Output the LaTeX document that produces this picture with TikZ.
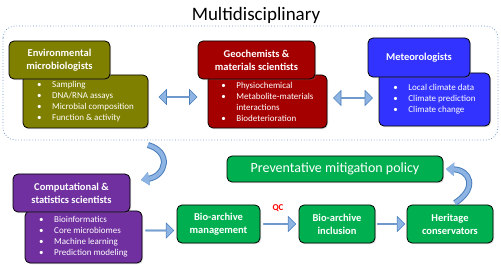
\documentclass[tikz,border=0pt]{standalone}
\usepackage{fontspec}
\setmainfont{Carlito}
\usetikzlibrary{shapes.arrows,shadows,arrows.meta,calc}
\definecolor{olivebox}{HTML}{7F7F00}
\definecolor{redbox}{HTML}{A50000}
\definecolor{bluebox}{HTML}{3333FF}
\definecolor{purplebox}{HTML}{7030A0}
\definecolor{greenbox}{HTML}{00B050}
\definecolor{arrfill}{HTML}{8EB4E3}
\definecolor{arredge}{HTML}{4A7EBB}
\newcommand{\bl}{\makebox[15pt][l]{\textbullet}}

\begin{document}
\begin{tikzpicture}[x=1pt,y=-1pt]
\tikzset{box/.style={draw=black,line width=0.8pt,rounded corners=5pt,text=white,
    drop shadow={shadow xshift=1pt,shadow yshift=-1.2pt,opacity=0.3}},
  head/.style={box,font=\bfseries\fontsize{10.5}{13}\selectfont,align=center},
  detail/.style={box,font=\fontsize{9}{11}\selectfont,align=left},
  blk/.style={fill=arrfill,draw=arredge,line width=0.6pt,inner sep=0pt},
  curv/.style={arredge,line width=6pt,
    postaction={draw=arrfill,line width=4pt},-{Triangle[length=8pt,width=13pt]}}}
\useasboundingbox (0,0) rectangle (501,267);

\path (256,15) node[font=\fontsize{19}{22}\selectfont] (title) {Multidisciplinary};
\draw[arredge!80,dotted,line width=0.8pt,rounded corners=12pt] (3,26) rectangle (498,140);

% top row
\path (85.5,101.5) node[detail,fill=olivebox,minimum width=125pt,minimum height=53pt] (envd)
  {\bl Sampling\\ \bl DNA/RNA assays\\ \bl Microbial composition\\ \bl Function \& activity};
\path (59.5,60) node[head,fill=olivebox,minimum width=101pt,minimum height=38pt] (envh)
  {Environmental\\ microbiologists};

\path (267.5,101.5) node[detail,fill=redbox,minimum width=119pt,minimum height=53pt] (geod)
  {\bl Physiochemical\\ \bl Metabolite-materials\\ \hspace*{15pt}interactions\\ \bl Biodeterioration};
\path (256.5,60) node[head,fill=redbox,minimum width=117pt,minimum height=38pt] (geoh)
  {Geochemists \&\\ materials scientists};

\path (434.5,99.5) node[detail,fill=bluebox,minimum width=111pt,minimum height=53pt] (metd)
  {\bl Local climate data\\ \bl Climate prediction\\ \bl Climate change};
\path (419,57.5) node[head,fill=bluebox,minimum width=102pt,minimum height=39pt] (meth)
  {Meteorologists};

\path ($(envd.east)!0.5!(geod.west)+(0,-4.5)$) node[blk,double arrow,minimum height=38pt,
  minimum width=15pt,double arrow head extend=3.5pt] (a1) {};
\path ($(geod.east)!0.5!(metd.west)+(0,-2.5)$) node[blk,double arrow,minimum height=39pt,
  minimum width=15pt,double arrow head extend=3.5pt] (a2) {};

% bottom row
\path (83.5,237) node[detail,fill=purplebox,minimum width=117pt,minimum height=52pt] (compd)
  {\bl Bioinformatics\\ \bl Core microbiomes\\ \bl Machine learning\\ \bl Prediction modeling};
\path (71.5,193) node[head,fill=purplebox,minimum width=117pt,minimum height=38pt] (comph)
  {Computational \&\\ statistics scientists};

\path (218.5,224) node[head,fill=greenbox,minimum width=83pt,minimum height=38pt] (mgmt)
  {Bio-archive\\ management};
\path (337,224) node[head,fill=greenbox,minimum width=76pt,minimum height=38pt] (incl)
  {Bio-archive\\ inclusion};
\path (450,224) node[head,fill=greenbox,minimum width=86pt,minimum height=38pt] (herit)
  {Heritage\\ conservators};
\path (335,169) node[box,fill=greenbox,minimum width=216pt,minimum height=26pt,
  font=\fontsize{14}{16}\selectfont] (policy) {Preventative mitigation policy};
\path (278,208) node[text=red,font=\bfseries\fontsize{9}{10}\selectfont] (qc) {QC};

\path (compd.east) -- (mgmt.west) node[midway,blk,single arrow,minimum height=28pt,
  minimum width=15pt,single arrow head extend=3.5pt] (a3) {};
\path (mgmt.east) -- (incl.west) node[midway,blk,single arrow,minimum height=32pt,
  minimum width=15pt,single arrow head extend=3.5pt] (a4) {};
\path (incl.east) -- (herit.west) node[midway,blk,single arrow,minimum height=27pt,
  minimum width=15pt,single arrow head extend=3.5pt] (a5) {};

% curved arrows
\coordinate (c1) at (148,145);
\coordinate (c2) at (141,180);
\draw[curv] (c1) .. controls (172,152) and (166,176) .. (c2);
\coordinate (c3) at (455,203);
\coordinate (c4) at (446,169);
\draw[curv] (c3) .. controls (478,188) and (470,170) .. (c4);
\end{tikzpicture}
\end{document}
